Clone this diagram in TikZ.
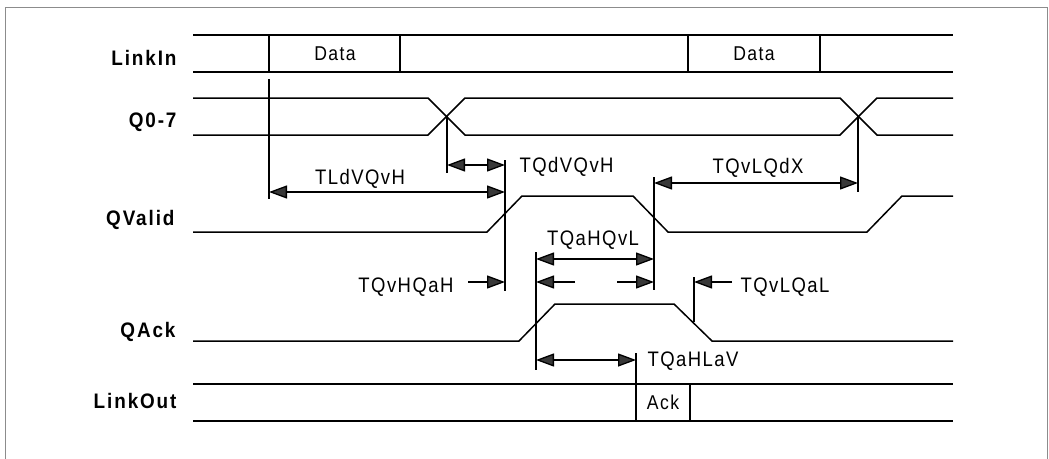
\documentclass[tikz,border=0pt]{standalone}
\usepackage{fontspec}
\setmainfont{Liberation Sans}
\newfontfamily\siglabfont[LetterSpace=9,FakeStretch=0.9]{Liberation Sans}
\newfontfamily\timlabfont[LetterSpace=7,FakeStretch=0.88]{Liberation Sans}
\usetikzlibrary{arrows.meta}
\tikzset{
  sig/.style={line width=1.5pt},
  mark line/.style={line width=1.3pt},
  dim/.style={line width=1.3pt,{Triangle[length=18pt,width=13pt,fill=black!78]}-{Triangle[length=18pt,width=13pt,fill=black!78]}},
  half/.style={line width=1.3pt,-{Triangle[length=18pt,width=13pt,fill=black!78]}},
  signame/.style={font=\siglabfont\bfseries\fontsize{21}{21}\selectfont,anchor=base east},
  timname/.style={font=\timlabfont\fontsize{21}{21}\selectfont},
  boxtext/.style={font=\timlabfont\fontsize{20}{20}\selectfont}
}
\begin{document}
\begin{tikzpicture}[x=1pt,y=-1pt]
\useasboundingbox (0,0) rectangle (1049,458);
\draw[black!45,line width=1pt] (5,7) rectangle (1047,470);

\node[signame] (nlinkin) at (180,65) {LinkIn};
\node[signame] (nq) at (180,127) {Q0-7};
\node[signame] (nqvalid) at (178,225) {QValid};
\node[signame] (nqack) at (179,337) {QAck};
\node[signame] (nlinkout) at (180,408) {LinkOut};

\draw[sig] (193,35) -- (953,35) (193,72) -- (953,72);
\draw[sig] (269,35) -- (269,72) (400,35) -- (400,72) (688,35) -- (688,72) (820,35) -- (820,72);
\node[boxtext] (data1) at (335,54) {Data};
\node[boxtext] (data2) at (754,54) {Data};

\draw[sig] (193,98) -- (428,98) -- (465,135) -- (840,135) -- (877,98) -- (953,98);
\draw[sig] (193,135) -- (428,135) -- (465,98) -- (840,98) -- (877,135) -- (953,135);

\draw[sig] (193,232) -- (487,232) -- (522,196) -- (633,196) -- (668,232) -- (867,232) -- (902,196) -- (953,196);
\draw[sig] (193,341) -- (519,341) -- (555,304) -- (674,304) -- (712,341) -- (953,341);

\draw[sig] (193,384) -- (953,384) (193,421) -- (953,421);
\draw[sig] (636,384) -- (636,421) (690,384) -- (690,421);
\node[boxtext] (ack) at (663,402) {Ack};

\coordinate (m1) at (269,192);
\coordinate (m2) at (447,165);
\coordinate (m3a) at (505,165);
\coordinate (m3b) at (505,192);
\coordinate (m3c) at (505,282);
\coordinate (m4a) at (654,183);
\coordinate (m4b) at (654,259);
\coordinate (m4c) at (654,282);
\coordinate (m5) at (858,183);
\coordinate (m6a) at (536,259);
\coordinate (m6b) at (536,282);
\coordinate (m6c) at (536,360);
\coordinate (m7) at (694,282);
\coordinate (m8) at (636,360);
\coordinate (t1) at (575,282);
\coordinate (t2) at (617,282);
\coordinate (t3) at (468,282);
\coordinate (t4) at (732,282);

\draw[mark line] (269,79) -- (269,199);
\draw[mark line] (447,116) -- (447,173);
\draw[mark line] (505,160) -- (505,291);
\draw[mark line] (654,177) -- (654,290);
\draw[mark line] (858,116) -- (858,192);
\draw[mark line] (536,252) -- (536,370);
\draw[mark line] (694,277) -- (694,322);
\draw[mark line] (636,353) -- (636,384);

\draw[dim] (m1) -- (m3b);
\draw[dim] (m2) -- (m3a);
\draw[dim] (m4a) -- (m5);
\draw[dim] (m6a) -- (m4b);
\draw[dim] (m6c) -- (m8);
\draw[half] (t1) -- (m6b);
\draw[half] (t2) -- (m4c);
\draw[half] (t3) -- (m3c);
\draw[half] (t4) -- (m7);

\node[timname,anchor=base] (ldvqvh) at (360,184) {TLdVQvH};
\node[timname,anchor=base west] (qdvqvh) at (516,172) {TQdVQvH};
\node[timname,anchor=base] (qvlqdx) at (758,173) {TQvLQdX};
\node[timname,anchor=base] (qahqvl) at (593,245) {TQaHQvL};
\node[timname,anchor=base east] (qvhqah) at (457,292) {TQvHQaH};
\node[timname,anchor=base west] (qvlqal) at (737,292) {TQvLQaL};
\node[timname,anchor=base west] (qahlav) at (644,366) {TQaHLaV};
\end{tikzpicture}
\end{document}
